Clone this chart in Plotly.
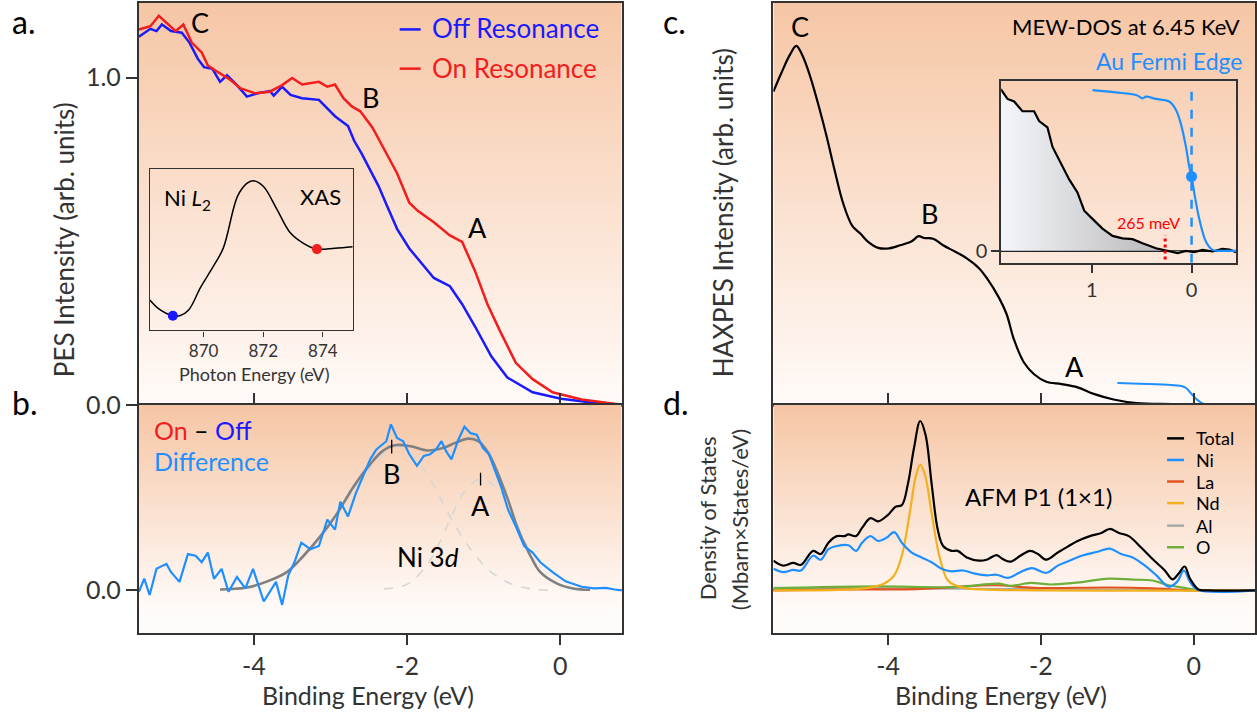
import numpy as np
import plotly.graph_objects as go

# ---------------- data ----------------
# panel a: PES spectra (binding energy eV, intensity arb. units)
off_E = [-5.50,-5.35,-5.27,-5.20,-5.08,-4.94,-4.84,-4.73,-4.65,-4.54,-4.44,-4.35,-4.22,-4.09,-3.95,-3.79,-3.74,-3.63,-3.52,-3.37,-3.15,-3.04,-2.94,-2.77,-2.69,-2.59,-2.48,-2.37,-2.26,-2.13,-1.97,-1.86,-1.65,-1.44,-1.28,-1.11,-0.90,-0.69,-0.36,0.01,0.44,0.80]
off_I = [1.125,1.149,1.142,1.162,1.142,1.137,1.107,1.057,1.032,1.027,0.987,1.007,0.977,0.942,0.952,0.959,0.945,0.972,0.947,0.937,0.932,0.907,0.882,0.852,0.807,0.767,0.718,0.668,0.608,0.538,0.478,0.448,0.388,0.363,0.308,0.239,0.149,0.084,0.039,0.019,0.007,0.001]
on_E = [-5.50,-5.35,-5.24,-5.13,-5.02,-4.92,-4.81,-4.68,-4.60,-4.47,-4.33,-4.17,-3.98,-3.79,-3.63,-3.50,-3.37,-3.15,-3.04,-2.94,-2.83,-2.72,-2.61,-2.45,-2.29,-2.13,-1.97,-1.86,-1.65,-1.44,-1.28,-1.11,-0.95,-0.79,-0.58,-0.36,-0.10,0.28,0.80]
on_I = [1.147,1.157,1.189,1.165,1.142,1.162,1.107,1.077,1.037,1.017,0.997,0.967,0.952,0.957,0.977,0.999,0.979,0.987,0.972,0.979,0.937,0.912,0.897,0.847,0.778,0.708,0.618,0.593,0.558,0.518,0.498,0.408,0.308,0.228,0.129,0.079,0.039,0.017,0.001]

# inset a: Ni L2 XAS
xas_E = [868.2,868.5,868.97,869.2,869.5,869.9,870.3,870.66,871.14,871.45,871.65,872.0,872.45,872.9,873.35,873.8,874.4,875.0]
xas_I = [0.188,0.133,0.091,0.091,0.127,0.267,0.388,0.509,0.830,0.909,0.926,0.891,0.752,0.606,0.539,0.503,0.509,0.518]
xas_mark_E = [868.97, 873.8]
xas_mark_I = [0.091, 0.503]
xas_mark_col = ["#1a1aff", "#f21d1d"]

# panel b: On - Off difference, fit and components
dif_E = [-5.50,-5.43,-5.36,-5.27,-5.19,-5.14,-5.08,-4.97,-4.86,-4.76,-4.68,-4.60,-4.52,-4.42,-4.33,-4.22,-4.11,-4.01,-3.87,-3.79,-3.71,-3.63,-3.55,-3.47,-3.38,-3.26,-3.15,-3.04,-2.94,-2.87,-2.77,-2.67,-2.56,-2.48,-2.40,-2.32,-2.27,-2.21,-2.13,-2.05,-1.97,-1.87,-1.78,-1.70,-1.62,-1.55,-1.49,-1.42,-1.33,-1.25,-1.17,-1.09,-1.01,-0.93,-0.85,-0.77,-0.68,-0.58,-0.47,-0.36,-0.26,-0.10,0.07,0.28,0.44,0.60,0.71,0.80]
dif_I = [-0.009,0.077,-0.030,0.142,0.163,0.174,0.120,0.056,0.239,0.228,0.185,0.249,0.077,0.142,-0.009,0.088,0.013,0.142,-0.073,-0.009,0.056,-0.095,0.099,0.185,0.314,0.271,0.292,0.465,0.400,0.583,0.486,0.637,0.766,0.862,0.927,0.959,0.981,1.092,1.002,0.981,0.895,0.819,0.884,0.895,0.927,0.981,0.916,0.862,0.991,1.077,1.034,1.024,0.938,0.895,0.787,0.680,0.529,0.422,0.292,0.249,0.185,0.120,0.060,0.024,0.013,0.017,0.006,0.0]
fit_E = [-4.44,-4.11,-3.84,-3.57,-3.35,-3.13,-2.91,-2.70,-2.48,-2.32,-2.16,-1.95,-1.73,-1.52,-1.37,-1.20,-1.07,-0.94,-0.81,-0.68,-0.55,-0.41,-0.26,-0.04,0.17,0.39]
fit_I = [0.006,0.017,0.056,0.120,0.228,0.357,0.508,0.680,0.830,0.916,0.955,0.948,0.920,0.938,0.970,0.998,0.981,0.905,0.766,0.594,0.400,0.249,0.120,0.045,0.013,0.004]
compB_E = [-4.44,-4.11,-3.84,-3.57,-3.35,-3.13,-2.91,-2.70,-2.48,-2.32,-2.15,-1.95,-1.70,-1.44,-1.17,-0.90,-0.65,-0.40,-0.15]
compB_I = [0.006,0.017,0.056,0.120,0.226,0.352,0.500,0.660,0.800,0.890,0.945,0.900,0.733,0.486,0.271,0.120,0.045,0.012,0.0]
compA_E = [-2.30,-2.00,-1.75,-1.57,-1.42,-1.25,-1.05,-0.89,-0.68,-0.47,-0.21,0.07,0.34]
compA_I = [0.010,0.040,0.160,0.320,0.486,0.650,0.733,0.700,0.570,0.330,0.100,0.024,0.0]

# panel c: HAXPES valence band and Au Fermi edge
hax_E = [-5.50,-5.39,-5.29,-5.20,-5.11,-5.01,-4.90,-4.80,-4.70,-4.59,-4.47,-4.36,-4.26,-4.13,-4.00,-3.84,-3.69,-3.60,-3.53,-3.41,-3.28,-3.12,-2.97,-2.81,-2.71,-2.55,-2.45,-2.35,-2.22,-2.09,-1.93,-1.73,-1.52,-1.31,-1.05,-0.75,-0.28,0.80]
hax_I = [0.957,1.017,1.067,1.097,1.062,0.997,0.907,0.817,0.718,0.618,0.548,0.523,0.498,0.480,0.478,0.488,0.500,0.516,0.510,0.508,0.488,0.468,0.448,0.418,0.388,0.328,0.278,0.198,0.129,0.094,0.071,0.064,0.054,0.034,0.017,0.006,0.003,0.0]
au_E = [-1.00,-0.60,-0.30,-0.18,-0.10,-0.05,0.03,0.13,0.40,0.80]
au_I = [0.067,0.064,0.061,0.059,0.052,0.039,0.019,0.003,0.0,0.0]

# inset c (positive binding energy)
ins_E = [1.914,1.847,1.78,1.697,1.63,1.58,1.53,1.446,1.395,1.31,1.228,1.145,1.077,0.994,0.894,0.793,0.693,0.592,0.492,0.357,0.224,0.14,0.056,-0.027,-0.11,-0.21,-0.31,-0.38,-0.446]
ins_I = [0.996,0.936,0.92,0.86,0.86,0.86,0.80,0.76,0.64,0.54,0.44,0.36,0.247,0.197,0.137,0.092,0.077,0.072,0.046,0.016,-0.004,-0.014,0.0,-0.008,0.006,-0.004,0.012,0.008,-0.008]
insau_E = [0.994,0.76,0.558,0.49,0.458,0.357,0.224,0.157,0.106,0.056,0.023,0.0,-0.027,-0.077,-0.145,-0.21,-0.31,-0.446]
insau_I = [0.99,0.976,0.96,0.94,0.95,0.936,0.92,0.869,0.779,0.639,0.518,0.458,0.357,0.197,0.056,0.006,0.0,0.0]
fermi_E = [0.0]
fermi_I = [0.458]
gap_E = 0.265

# panel d: DOS
tot_E = [-5.50,-5.37,-5.24,-5.14,-4.98,-4.88,-4.78,-4.67,-4.57,-4.52,-4.42,-4.34,-4.23,-4.13,-4.00,-3.90,-3.82,-3.74,-3.66,-3.58,-3.51,-3.43,-3.35,-3.28,-3.17,-3.09,-2.97,-2.81,-2.71,-2.58,-2.50,-2.40,-2.27,-2.14,-2.04,-1.93,-1.78,-1.65,-1.52,-1.36,-1.21,-1.10,-0.98,-0.85,-0.69,-0.54,-0.38,-0.28,-0.20,-0.12,-0.05,0.06,0.19,0.80]
tot_I = [0.196,0.163,0.181,0.168,0.260,0.239,0.314,0.357,0.357,0.368,0.357,0.411,0.475,0.454,0.497,0.551,0.561,0.701,0.938,1.114,1.024,0.701,0.400,0.292,0.260,0.260,0.217,0.196,0.202,0.232,0.206,0.189,0.228,0.260,0.239,0.202,0.249,0.288,0.325,0.357,0.378,0.404,0.378,0.357,0.282,0.206,0.131,0.073,0.110,0.157,0.077,0.006,0.0,0.0]
ni_E = [-5.50,-5.37,-5.24,-5.14,-4.98,-4.88,-4.78,-4.67,-4.52,-4.42,-4.34,-4.23,-4.13,-4.02,-3.92,-3.82,-3.69,-3.56,-3.43,-3.30,-3.17,-3.02,-2.86,-2.71,-2.58,-2.43,-2.27,-2.12,-1.93,-1.78,-1.62,-1.47,-1.26,-1.10,-0.95,-0.80,-0.64,-0.49,-0.33,-0.22,-0.13,-0.05,0.04,0.80]
ni_I = [0.142,0.120,0.135,0.131,0.228,0.202,0.271,0.292,0.297,0.260,0.314,0.357,0.325,0.346,0.383,0.314,0.249,0.217,0.185,0.142,0.125,0.131,0.110,0.099,0.103,0.082,0.120,0.146,0.116,0.163,0.196,0.228,0.254,0.275,0.239,0.217,0.163,0.099,0.024,0.056,0.131,0.056,0.006,0.0]
nd_E = [-5.50,-4.67,-4.26,-4.05,-3.92,-3.82,-3.71,-3.64,-3.58,-3.52,-3.43,-3.33,-3.22,-3.12,-2.97,-2.61,0.80]
nd_I = [0.0,0.004,0.017,0.045,0.099,0.228,0.529,0.744,0.826,0.766,0.508,0.228,0.067,0.034,0.013,0.004,0.0]
o_E = [-5.50,-4.16,-3.12,-2.55,-2.40,-2.14,-1.88,-1.57,-1.11,-0.80,-0.54,-0.33,-0.12,0.09,0.80]
o_I = [0.013,0.026,0.022,0.045,0.030,0.049,0.039,0.049,0.077,0.071,0.065,0.034,0.017,0.0,0.0]
la_E = [-5.50,-4.67,-3.64,-2.61,-2.09,-1.10,-0.54,0.0,0.80]
la_I = [0.0,0.006,0.009,0.034,0.017,0.019,0.013,0.0,0.0]
al_E = [-5.50,-4.16,-2.09,-0.54,0.80]
al_I = [0.017,0.013,0.009,0.004,0.0]

dos_names = ["Total", "Ni", "La", "Nd", "Al", "O"]

# ---------------- styling ----------------
FONT = "Lato"
INK = "#333333"
BLUE = "#1a1aff"
RED = "#f21d1d"
LBLUE = "#1e8fff"
dos_colors = {"Total": "#000000", "Ni": LBLUE, "La": "#e2531f", "Nd": "#f2b01e", "Al": "#aaaaaa", "O": "#6fae3a"}
PEACH = "#f6c6a5"
WHITE = "#fffbf9"

W, H = 1257, 725
def px(x): return x / W
def py(y): return 1 - y / H

XR = [-5.5, 0.8]
YR_TOP = [0, 1.228]
YR_BOT = [-0.277, 1.219]

fig = go.Figure()

def bg(xa, ya, yr, ywhite):
    ys = np.linspace(yr[0] - 0.05, yr[1] + 0.05, 40)
    z = [[float(np.clip((y - ywhite) / (yr[1] - ywhite), 0, 1))] * 2 for y in ys]
    fig.add_trace(go.Heatmap(x=[XR[0] - 0.5, XR[1] + 0.5], y=ys, z=z, zmin=0, zmax=1,
                             colorscale=[[0, WHITE], [1, PEACH]], showscale=False,
                             hoverinfo="skip", zsmooth="best", xaxis=xa, yaxis=ya))

bg("x", "y", YR_TOP, YR_TOP[0])
bg("x2", "y2", YR_BOT, -0.12)
bg("x3", "y3", YR_TOP, YR_TOP[0])
bg("x4", "y4", YR_BOT, -0.12)

def line(x, y, color, width, xa, ya, dash=None, shape="linear", **kw):
    fig.add_trace(go.Scatter(x=x, y=y, mode="lines", line=dict(color=color, width=width, dash=dash, shape=shape),
                             xaxis=xa, yaxis=ya, showlegend=False, hoverinfo="skip", **kw))

# panel a
line(off_E, off_I, BLUE, 2.5, "x", "y")
line(on_E, on_I, RED, 2.5, "x", "y")
# panel b
line(compB_E, compB_I, "#d6d6d6", 1.6, "x2", "y2", dash="dash", shape="spline")
line(compA_E, compA_I, "#d6d6d6", 1.6, "x2", "y2", dash="dash", shape="spline")
line(fit_E, fit_I, "#808080", 2.6, "x2", "y2", shape="spline")
line(dif_E, dif_I, LBLUE, 2.2, "x2", "y2")
# panel c
line(hax_E, hax_I, "#000000", 2.2, "x3", "y3", shape="spline")
line(au_E, au_I, LBLUE, 2.0, "x3", "y3", shape="spline")
# panel d
for name, (e, v) in zip(["Al", "La", "O", "Nd", "Ni", "Total"],
                        [(al_E, al_I), (la_E, la_I), (o_E, o_I), (nd_E, nd_I), (ni_E, ni_I), (tot_E, tot_I)]):
    line(e, v, dos_colors[name], 2.2, "x4", "y4", shape="spline")
# inset a
line(xas_E, xas_I, "#000000", 1.5, "x5", "y5", shape="spline")
fig.add_trace(go.Scatter(x=xas_mark_E, y=xas_mark_I, mode="markers", marker=dict(color=xas_mark_col, size=10),
                         xaxis="x5", yaxis="y5", showlegend=False, hoverinfo="skip"))
# inset c
fig.add_trace(go.Scatter(x=ins_E, y=ins_I, mode="lines", line=dict(color="#000000", width=2.2),
                         fill="tozeroy",
                         fillgradient=dict(type="horizontal", start=0.3, stop=1.9,
                                           colorscale=[[0, "#b9b9bb"], [1, "#f4f5fa"]]),
                         xaxis="x6", yaxis="y6", showlegend=False, hoverinfo="skip"))
line(insau_E, insau_I, LBLUE, 2.2, "x6", "y6", shape="spline")
fig.add_trace(go.Scatter(x=fermi_E, y=fermi_I, mode="markers", marker=dict(color=LBLUE, size=11),
                         xaxis="x6", yaxis="y6", showlegend=False, hoverinfo="skip"))

# ---------------- axes ----------------
base = dict(showline=True, linecolor=INK, linewidth=2, mirror=True, showgrid=False, zeroline=False,
            tickcolor=INK, tickwidth=2, tickfont=dict(family=FONT, size=25, color=INK))
XA = [px(139), px(622)]
XC = [px(774), px(1256)]
YT = [py(413), py(3)]
YB = [py(645), py(413)]
tv = [-4, -2, 0]
tt = ["-4", "-2", "0"]

fig.update_layout(
    xaxis=dict(base, domain=XA, anchor="y", range=XR, tickvals=tv, ticks="outside", ticklen=7, showticklabels=False),
    yaxis=dict(base, domain=YT, anchor="x", range=YR_TOP, tickvals=[0, 1], ticktext=["0.0", "1.0"], ticks="outside", ticklen=11),
    xaxis2=dict(base, domain=XA, anchor="y2", range=XR, tickvals=tv, ticktext=tt, ticks="outside", ticklen=10, mirror="ticks"),
    yaxis2=dict(base, domain=YB, anchor="x2", range=YR_BOT, tickvals=[0], ticktext=["0.0"], ticks="outside", ticklen=11,
                zeroline=True, zerolinecolor=INK, zerolinewidth=2),
    xaxis3=dict(base, domain=XC, anchor="y3", range=XR, tickvals=tv, ticks="outside", ticklen=7, showticklabels=False),
    yaxis3=dict(base, domain=YT, anchor="x3", range=YR_TOP, ticks="", showticklabels=False),
    xaxis4=dict(base, domain=XC, anchor="y4", range=XR, tickvals=tv, ticktext=tt, ticks="outside", ticklen=10, mirror="ticks"),
    yaxis4=dict(base, domain=YB, anchor="x4", range=YR_BOT, ticks="", showticklabels=False,
                zeroline=True, zerolinecolor=INK, zerolinewidth=2),
    xaxis5=dict(base, domain=[px(150), px(353)], anchor="y5", range=[868.2, 875.0], tickvals=[870, 872, 874],
                ticks="outside", ticklen=5, linewidth=1.3, tickwidth=1.3, tickfont=dict(family=FONT, size=17, color=INK)),
    yaxis5=dict(base, domain=[py(337), py(172)], anchor="x5", range=[0, 1], ticks="", showticklabels=False, linewidth=1.3),
    xaxis6=dict(base, domain=[px(1002), px(1237)], anchor="y6", range=[1.91, -0.446], tickvals=[1, 0], ticktext=["1", "0"],
                ticks="outside", ticklen=8, linewidth=1.5, tickwidth=1.5, tickfont=dict(family=FONT, size=20, color=INK)),
    yaxis6=dict(base, domain=[py(268), py(83)], anchor="x6", range=[-0.074, 1.044], tickvals=[0], ticktext=["0"],
                ticks="outside", ticklen=8, linewidth=1.5, tickwidth=1.5, tickfont=dict(family=FONT, size=20, color=INK),
                zeroline=True, zerolinecolor="#222222", zerolinewidth=1.5),
)

# ---------------- annotations ----------------
ann = []
def txt(x, y, s, size=26, color="#000000", xanchor="center", yanchor="middle", angle=0):
    ann.append(dict(x=px(x), y=py(y), xref="paper", yref="paper", text=s, showarrow=False,
                    font=dict(family=FONT, size=size, color=color), xanchor=xanchor, yanchor=yanchor,
                    textangle=angle))

# panel letters
txt(10, 22, "a.", 32, xanchor="left")
txt(10, 410, "b.", 32, xanchor="left")
txt(662, 22, "c.", 32, xanchor="left")
txt(662, 410, "d.", 32, xanchor="left")
# axis titles
txt(64, 244, "PES Intensity (arb. units)", 26, INK, angle=-90)
txt(723, 217, "HAXPES Intensity (arb. units)", 26, INK, angle=-90)
txt(708, 528, "Density of States", 22, INK, angle=-90)
txt(740, 530, "(Mbarn×States/eV)", 22, INK, angle=-90)
txt(368, 709, "Binding Energy (eV)", 25, INK)
txt(1002, 709, "Binding Energy (eV)", 25, INK)
# panel a
txt(200, 23, "C", 27)
txt(371, 99, "B", 27)
txt(478, 232, "A", 27)
txt(430, 29, "Off Resonance", 26, BLUE, xanchor="left")
txt(430, 69, "On Resonance", 26, RED, xanchor="left")
txt(162, 203, "Ni <i>L</i><sub>2</sub>", 22, "#000000", xanchor="left")
txt(343, 200, "XAS", 22, "#000000", xanchor="right")
txt(254, 381, "Photon Energy (eV)", 18, INK)
# panel b
txt(152, 438, '<span style="color:%s">On</span> – <span style="color:%s">Off</span>' % (RED, BLUE), 25, "#000000", xanchor="left")
txt(152, 470, "Difference", 25, LBLUE, xanchor="left")
txt(392, 483, "B", 27)
txt(481, 515, "A", 27)
txt(428, 568, "Ni 3<i>d</i>", 26)
# panel c
txt(801, 27, "C", 27)
txt(930, 218, "B", 27)
txt(1075, 374, "A", 27)
txt(1243, 27, "MEW-DOS at 6.45 KeV", 22, "#000000", xanchor="right")
txt(1245, 62, "Au Fermi Edge", 23, LBLUE, xanchor="right")
txt(1149, 227, "265 meV", 16, "#ff0000")
# panel d
txt(1039, 506, "AFM P1 (1×1)", 24)
leg_y = [447, 469, 491, 513, 536, 558]
shapes = []
for name, yy in zip(dos_names, leg_y):
    txt(1195, yy, name, 18, "#000000", xanchor="left")
    shapes.append(dict(type="line", xref="paper", yref="paper", x0=px(1168), x1=px(1185), y0=py(yy), y1=py(yy),
                       line=dict(color=dos_colors[name], width=2.5)))
# legend swatches panel a
shapes.append(dict(type="line", xref="paper", yref="paper", x0=px(400), x1=px(421), y0=py(30), y1=py(30), line=dict(color=BLUE, width=2.5)))
shapes.append(dict(type="line", xref="paper", yref="paper", x0=px(400), x1=px(421), y0=py(70), y1=py(70), line=dict(color=RED, width=2.5)))
# peak markers in b
shapes.append(dict(type="line", xref="x2", yref="y2", x0=-2.20, x1=-2.20, y0=0.90, y1=0.99, line=dict(color="#000000", width=1.3)))
shapes.append(dict(type="line", xref="x2", yref="y2", x0=-1.04, x1=-1.04, y0=0.69, y1=0.774, line=dict(color="#000000", width=1.3)))
# inset c reference lines
shapes.append(dict(type="line", xref="x6", yref="y6", x0=fermi_E[0], x1=fermi_E[0], y0=-0.074, y1=max(insau_I),
                   line=dict(color=LBLUE, width=2.5, dash="dash")))
shapes.append(dict(type="line", xref="x6", yref="y6", x0=gap_E, x1=gap_E, y0=-0.054, y1=0.096,
                   line=dict(color="#ff0000", width=3, dash="dot")))

fig.update_layout(width=W, height=H, margin=dict(l=0, r=0, t=0, b=0), paper_bgcolor="white",
                  plot_bgcolor="rgba(0,0,0,0)", annotations=ann, shapes=shapes, showlegend=False,
                  font=dict(family=FONT, color=INK))

fig.write_html("out.html", config={"displayModeBar": False})
